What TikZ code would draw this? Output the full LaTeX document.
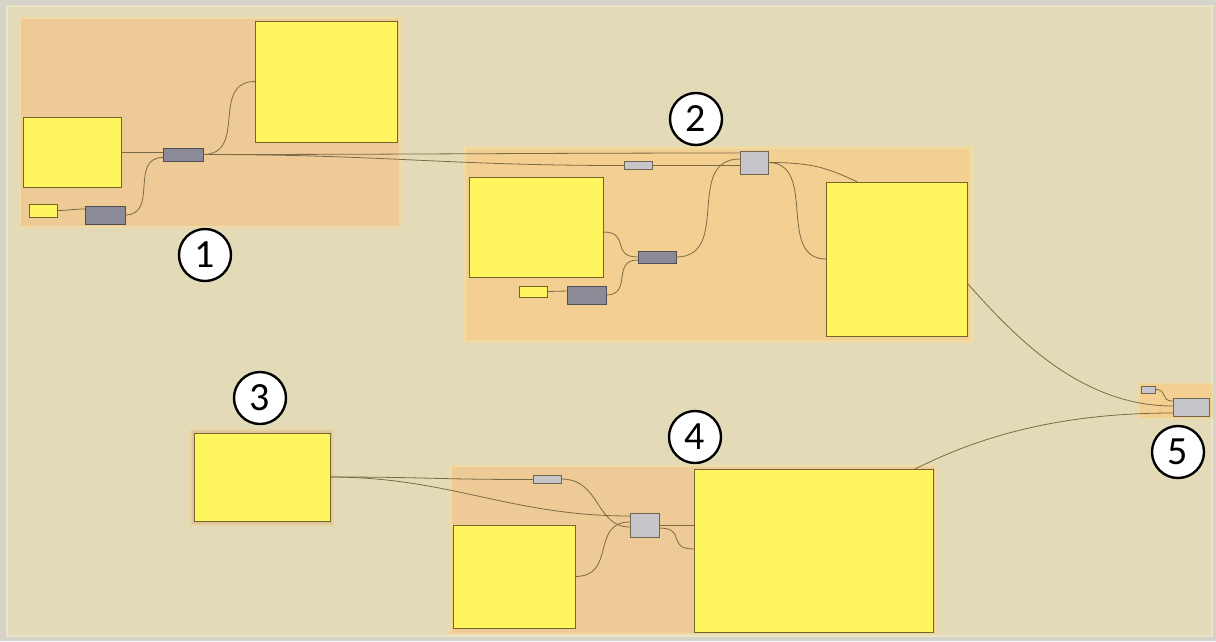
\documentclass[tikz,border=0pt]{standalone}
\usepackage{fontspec}
\newfontfamily\numfont{Carlito}
\usepackage{xcolor}
\usepackage{tikz}
\usetikzlibrary{calc, positioning}

\definecolor{outergray}{HTML}{D6D3C8}
\definecolor{canvasbg}{HTML}{E3DBB7}
\definecolor{canvasedge}{HTML}{EBE5CC}
\definecolor{grpone}{HTML}{EECA97}
\definecolor{grptwo}{HTML}{F3CF91}
\definecolor{grpedge}{HTML}{EFDBA3}
\definecolor{grpthree}{HTML}{DDC49C}
\definecolor{grpfive}{HTML}{F4CF92}
\definecolor{yelfill}{HTML}{FFF55E}
\definecolor{yelline}{HTML}{74652C}
\definecolor{dkfill}{HTML}{8A8B97}
\definecolor{dkline}{HTML}{4F4F55}
\definecolor{ltfill}{HTML}{C6C6CA}
\definecolor{ltline}{HTML}{6E6650}
\definecolor{wirecol}{HTML}{7B6A46}

\begin{document}
\begin{tikzpicture}[x=1pt, y=-1pt,
    box/.style={inner sep=0pt, outer sep=0pt, anchor=north west, line width=0.9pt},
    yel/.style={box, draw=yelline, fill=yelfill},
    dkg/.style={box, draw=dkline, fill=dkfill},
    ltg/.style={box, draw=ltline, fill=ltfill},
    wire/.style={draw=wirecol, line width=0.8pt},
    num/.style={circle, draw=black, line width=2.4pt, fill=white, minimum size=52pt,
        inner sep=0pt, font=\numfont\fontsize{40}{40}\selectfont}]
    % 1. Nền
    \fill[outergray] (0,0) rectangle (1216,641);
    \filldraw[fill=canvasbg, draw=canvasedge, line width=1.2pt] (7,6) rectangle (1212,636);
    \useasboundingbox (0,0) rectangle (1216,641);

    % 2. Các nhóm
    \filldraw[fill=grpone, draw=grpedge, line width=1.5pt] (20,18) rectangle (400,227);
    \filldraw[fill=grptwo, draw=grpedge, line width=3pt] (464,147) rectangle (971,341);
    \filldraw[fill=grpthree, draw=grpedge!60!grpthree, line width=1.5pt] (191,430) rectangle (333,525);
    \filldraw[fill=grpone, draw=grpedge, line width=1.5pt] (451,466) rectangle (936,634);
    \filldraw[fill=grpfive, draw=grpedge, line width=1pt] (1138,383) rectangle (1212,418);

    % 3. Các khối
    \node[yel, minimum width=142pt, minimum height=121pt] (a1) at (255,21) {};
    \node[yel, minimum width=98pt, minimum height=70pt] (b1) at (23,117) {};
    \node[yel, minimum width=28pt, minimum height=13pt] (c1) at (29,204) {};
    \node[dkg, minimum width=40pt, minimum height=18pt] (d1) at (85,206) {};
    \node[dkg, minimum width=40pt, minimum height=13pt] (e1) at (163,148) {};

    \node[yel, minimum width=134pt, minimum height=100pt] (i2) at (469,177) {};
    \node[yel, minimum width=28pt, minimum height=11pt] (j2) at (519,286) {};
    \node[dkg, minimum width=39pt, minimum height=18pt] (k2) at (567,286) {};
    \node[dkg, minimum width=38pt, minimum height=12pt] (h2) at (638,251) {};
    \node[yel, minimum width=141pt, minimum height=154pt] (l2) at (826,182) {};
    \node[ltg, minimum width=28pt, minimum height=23pt] (f2) at (740,151) {};
    \node[ltg, minimum width=28pt, minimum height=8pt] (g2) at (624,161) {};

    \node[yel, minimum width=136pt, minimum height=88pt] (n3) at (194,433) {};

    \node[yel, minimum width=122pt, minimum height=103pt] (o4) at (453,525) {};
    \node[yel, minimum width=239pt, minimum height=163pt] (p4) at (694,469) {};
    \node[ltg, minimum width=28pt, minimum height=8pt] (q4) at (533,475) {};
    \node[ltg, minimum width=29pt, minimum height=24pt] (r4) at (630,513) {};

    \node[ltg, minimum width=14pt, minimum height=7pt] (s5) at (1141,386) {};
    \node[ltg, minimum width=36pt, minimum height=18pt] (m5) at (1173,398) {};

    % 4. Dây nối
    \draw[wire] (b1.east) -- (b1.east -| e1.west);
    \draw[wire] (c1.east) .. controls +(12,0) and +(-12,0) .. ([yshift=6pt]d1.west);
    \draw[wire] (d1.east) .. controls +(34,0) and +(-34,0) .. ([yshift=-3pt]e1.west);
    \draw[wire] (e1.east) .. controls +(45,0) and +(-45,0) .. (a1.west);
    \draw[wire] (e1.east) .. controls +(200,0) and +(-200,0) .. ([yshift=-2pt]f2.north west);
    \draw[wire] (e1.east) .. controls +(180,0) and +(-180,0) .. ([yshift=-0.5pt]g2.west);
    \draw[wire] (g2.east) -- (g2.east -| f2.west);

    \draw[wire] ([yshift=-5pt]i2.east) .. controls +(28,0) and +(-28,0) .. (h2.west);
    \draw[wire] (j2.east) .. controls +(10,0) and +(-10,0) .. ([yshift=4pt]k2.west);
    \draw[wire] (k2.east) .. controls +(27,0) and +(-27,0) .. ([yshift=-3pt]h2.west);
    \draw[wire] (h2.east) .. controls +(56,0) and +(-56,0) .. ([yshift=3.5pt]f2.west);
    \draw[wire] (f2.east) .. controls +(50,0) and +(-50,0) .. (l2.west);
    \draw[wire] (f2.east) .. controls +(45,0) and +(-30,-14) .. ([xshift=-39pt]l2.north);
    \draw[wire] ([yshift=-24pt]l2.east) .. controls +(45,50) and +(-95,0) .. ([yshift=1pt]m5.west);

    \draw[wire] (n3.east) .. controls +(100,0) and +(-100,0) .. ([yshift=-0.5pt]q4.west);
    \draw[wire] (n3.east) .. controls +(120,0) and +(-120,0) .. ([yshift=9pt]r4.west);
    \draw[wire] (q4.east) .. controls +(40,0) and +(-35,0) .. ([yshift=-2pt]r4.west);
    \draw[wire] (o4.east) .. controls +(42,0) and +(-40,0) .. ([yshift=3pt]r4.west);
    \draw[wire] (r4.east) -- (r4.east -| p4.west);
    \draw[wire] ([yshift=-3pt]r4.east) .. controls +(28,0) and +(-28,0) .. ([yshift=1.5pt]p4.west);
    \draw[wire] ([xshift=101.5pt]p4.north) .. controls +(60,-30) and +(-120,0) .. ([yshift=-6pt]m5.west);

    \draw[wire] (s5.east) .. controls +(14,0) and +(-14,0) .. ([yshift=6pt]m5.west);

    % 5. Nhãn số
    \node[num] (lab1) at (205,255) {1};
    \node[num] (lab2) at (696,119) {2};
    \node[num] (lab3) at (260,398) {3};
    \node[num] (lab4) at (695,437) {4};
    \node[num] (lab5) at (1178,452) {5};
\end{tikzpicture}
\end{document}
